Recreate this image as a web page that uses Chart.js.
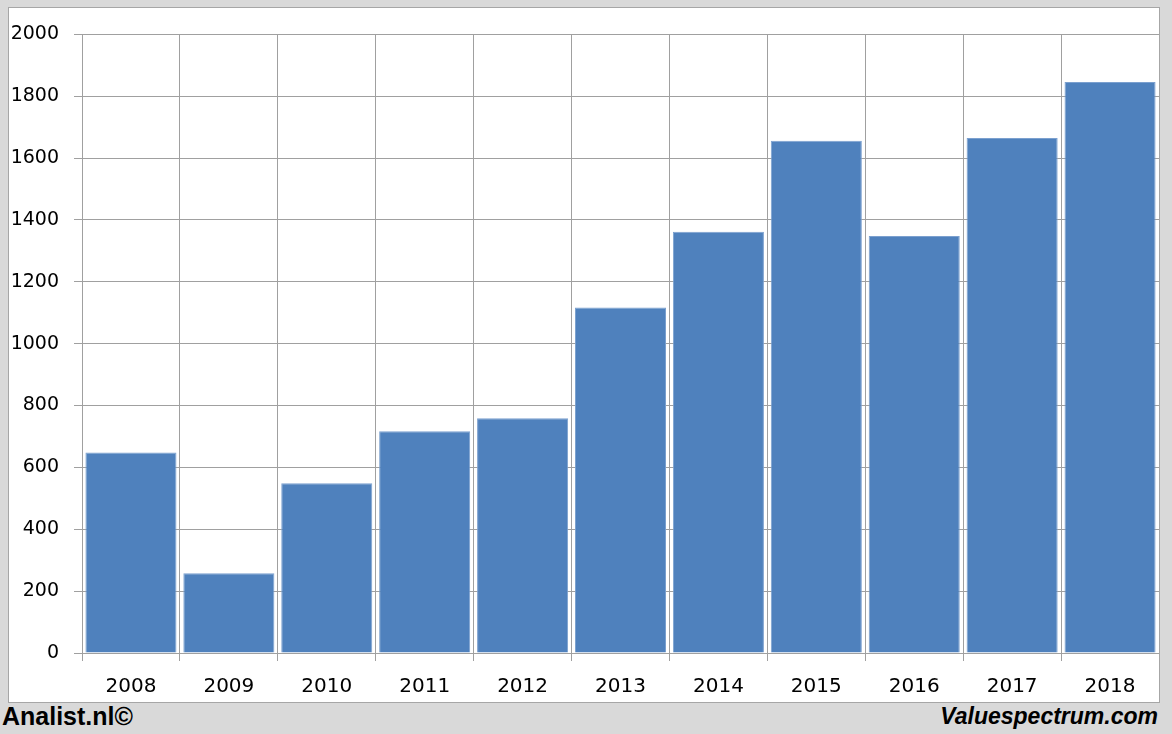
<!DOCTYPE html>
<html><head><meta charset="utf-8">
<script src="https://cdn.jsdelivr.net/npm/chart.js@4"></script>
<style>
html,body{margin:0;padding:0;background:#d9d9d9;width:1172px;height:734px;overflow:hidden;font-family:"Liberation Sans",Arial,sans-serif;}
#panel{position:absolute;left:8px;top:7px;width:1150px;height:694px;background:#fff;border:1px solid #a6a6a6;}
#wrap{position:absolute;left:0;top:0;width:1150px;height:694px;}
.foot{position:absolute;font-weight:bold;color:#000;line-height:1;}
#l{left:2px;top:704px;font-size:25px;}
#r{right:14px;top:705px;font-size:23px;font-style:italic;}
</style></head><body>
<div id="panel"><div id="wrap"><canvas id="c"></canvas></div></div>
<div class="foot" id="l">Analist.nl©</div>
<div class="foot" id="r">Valuespectrum.com</div>
<script>
const categories = ["2008","2009","2010","2011","2012","2013","2014","2015","2016","2017","2018"];
const values = [648, 258, 549, 717, 759, 1117, 1362, 1656, 1348, 1665, 1846];
const yTicks = [0,200,400,600,800,1000,1200,1400,1600,1800,2000];

new Chart(document.getElementById('c'), {
  type: 'bar',
  data: { labels: categories, datasets: [{ data: values, backgroundColor: '#4f81bd', borderColor: '#7ba0cf', borderWidth: 1, barPercentage: 0.93, categoryPercentage: 1.0 }] },
  options: {
    responsive: true, maintainAspectRatio: false, animation: false,
    layout: { padding: { top: 26, right: 0, left: 0, bottom: 0 } },
    plugins: { legend: { display: false }, tooltip: { enabled: false } },
    scales: {
      x: {
        grid: { offset: true, color: '#a0a0a0', lineWidth: 1, tickLength: 8, drawTicks: true },
        border: { color: '#a0a0a0' },
        ticks: { color: '#000', font: { family: 'DejaVu Sans', size: 20 }, padding: 14, maxRotation: 0 },
        afterFit: s => { s.height = 49; }
      },
      y: {
        min: 0, max: 2000,
        afterBuildTicks: s => { s.ticks = yTicks.map(v => ({ value: v })); },
        grid: { color: '#a0a0a0', lineWidth: 1, tickLength: 8 },
        border: { color: '#a0a0a0' },
        ticks: { color: '#000', font: { family: 'DejaVu Sans', size: 19 }, padding: 15, callback: v => String(v) },
        afterFit: s => { s.width = 73; }
      }
    }
  }
});
</script>
</body></html>
